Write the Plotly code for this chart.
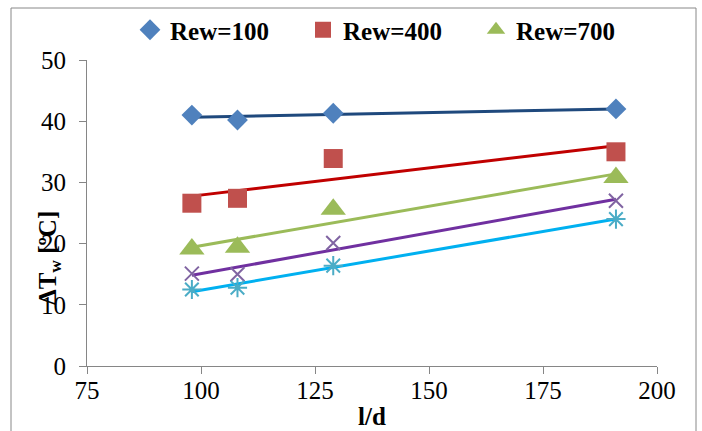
import numpy as np
import plotly.graph_objects as go

# ---- data ----
ld = [98, 108, 129, 191]
rew100 = [41.0, 40.2, 41.3, 42.0]
rew400 = [26.6, 27.4, 33.9, 35.0]
rew700 = [19.1, 19.4, 25.6, 30.8]
rew_x = [15.1, 15.0, 20.1, 27.0]     # unnamed series (x marker)
rew_star = [12.5, 12.8, 16.4, 24.0]  # unnamed series (asterisk marker)

series_names = ["Rew=100", "Rew=400", "Rew=700", "", ""]
x_ticks = [75, 100, 125, 150, 175, 200]
y_ticks = [0, 10, 20, 30, 40, 50]

FONT = "Liberation Serif"

W, H = 702, 431
L, R, T, B = 87, 45, 60, 65
pw, ph = W - L - R, H - T - B

def px_to_paper_x(px):
    return (px - L) / pw

def px_to_paper_y(py):
    return (H - B - py) / ph

fig = go.Figure()

marker_specs = [
    (rew100, dict(symbol="diamond", size=16, color="#4F81BD"), "#1F497D"),
    (rew400, dict(symbol="square", size=19, color="#C0504D"), "#C00000"),
    (rew700, dict(symbol="triangle-up", size=22, color="#9BBB59"), "#9BBB59"),
    (rew_x, dict(symbol="x-thin-open", size=14, color="#8064A2",
                 line=dict(color="#8064A2", width=2)), "#7030A0"),
    (rew_star, dict(symbol="asterisk-open", size=16, color="#4BACC6",
                    line=dict(color="#4BACC6", width=2)), "#00B0F0"),
]

# trendlines (linear least squares, as the spreadsheet trendline)
for vals, mk, lc in marker_specs:
    k, b0 = np.polyfit(ld, vals, 1)
    xs = [min(ld), max(ld)]
    fig.add_trace(go.Scatter(x=xs, y=[k * v + b0 for v in xs], mode="lines",
                             line=dict(color=lc, width=3), showlegend=False,
                             hoverinfo="skip"))

for (vals, mk, lc), name in zip(marker_specs, series_names):
    fig.add_trace(go.Scatter(x=ld, y=vals, mode="markers", marker=mk,
                             name=name, showlegend=bool(name)))

axis_common = dict(showline=True, linecolor="#868686", linewidth=1,
                   ticks="outside", ticklen=7, tickcolor="#868686",
                   showgrid=False, zeroline=False, automargin=False,
                   tickfont=dict(family=FONT, size=25, color="#000000"))

fig.update_xaxes(range=[75, 200], tickvals=x_ticks, ticklabelstandoff=-5,
                 **axis_common)
fig.update_yaxes(range=[0, 50], tickvals=y_ticks, ticklabelstandoff=8,
                 **axis_common)

fig.update_layout(
    width=W, height=H,
    margin=dict(l=L, r=R, t=T, b=B, autoexpand=False),
    paper_bgcolor="white", plot_bgcolor="white",
    font=dict(family=FONT),
    showlegend=True,
    legend=dict(orientation="h", x=px_to_paper_x(130), xanchor="left",
                y=px_to_paper_y(30), yanchor="middle",
                font=dict(family=FONT, size=25, color="#000000", weight="bold"),
                bgcolor="rgba(0,0,0,0)", entrywidth=128, entrywidthmode="pixels",
                itemwidth=30),
    annotations=[
        dict(text="<b>l/d</b>", x=0.5, xref="paper", y=px_to_paper_y(416),
             yref="paper", xanchor="center", yanchor="middle", showarrow=False,
             font=dict(family=FONT, size=25, color="#000000")),
        dict(text="<b>ΔT<sub>w</sub> [ºC]</b>", x=px_to_paper_x(49), xref="paper",
             y=px_to_paper_y(258), yref="paper", xanchor="center",
             yanchor="middle", showarrow=False, textangle=-90,
             font=dict(family=FONT, size=25, color="#000000")),
    ],
    shapes=[
        dict(type="rect", xref="paper", yref="paper",
             x0=px_to_paper_x(11), x1=px_to_paper_x(696),
             y0=px_to_paper_y(445), y1=px_to_paper_y(8),
             line=dict(color="#888888", width=1), fillcolor="rgba(0,0,0,0)",
             layer="below"),
    ],
)

fig.write_html("out.html")
